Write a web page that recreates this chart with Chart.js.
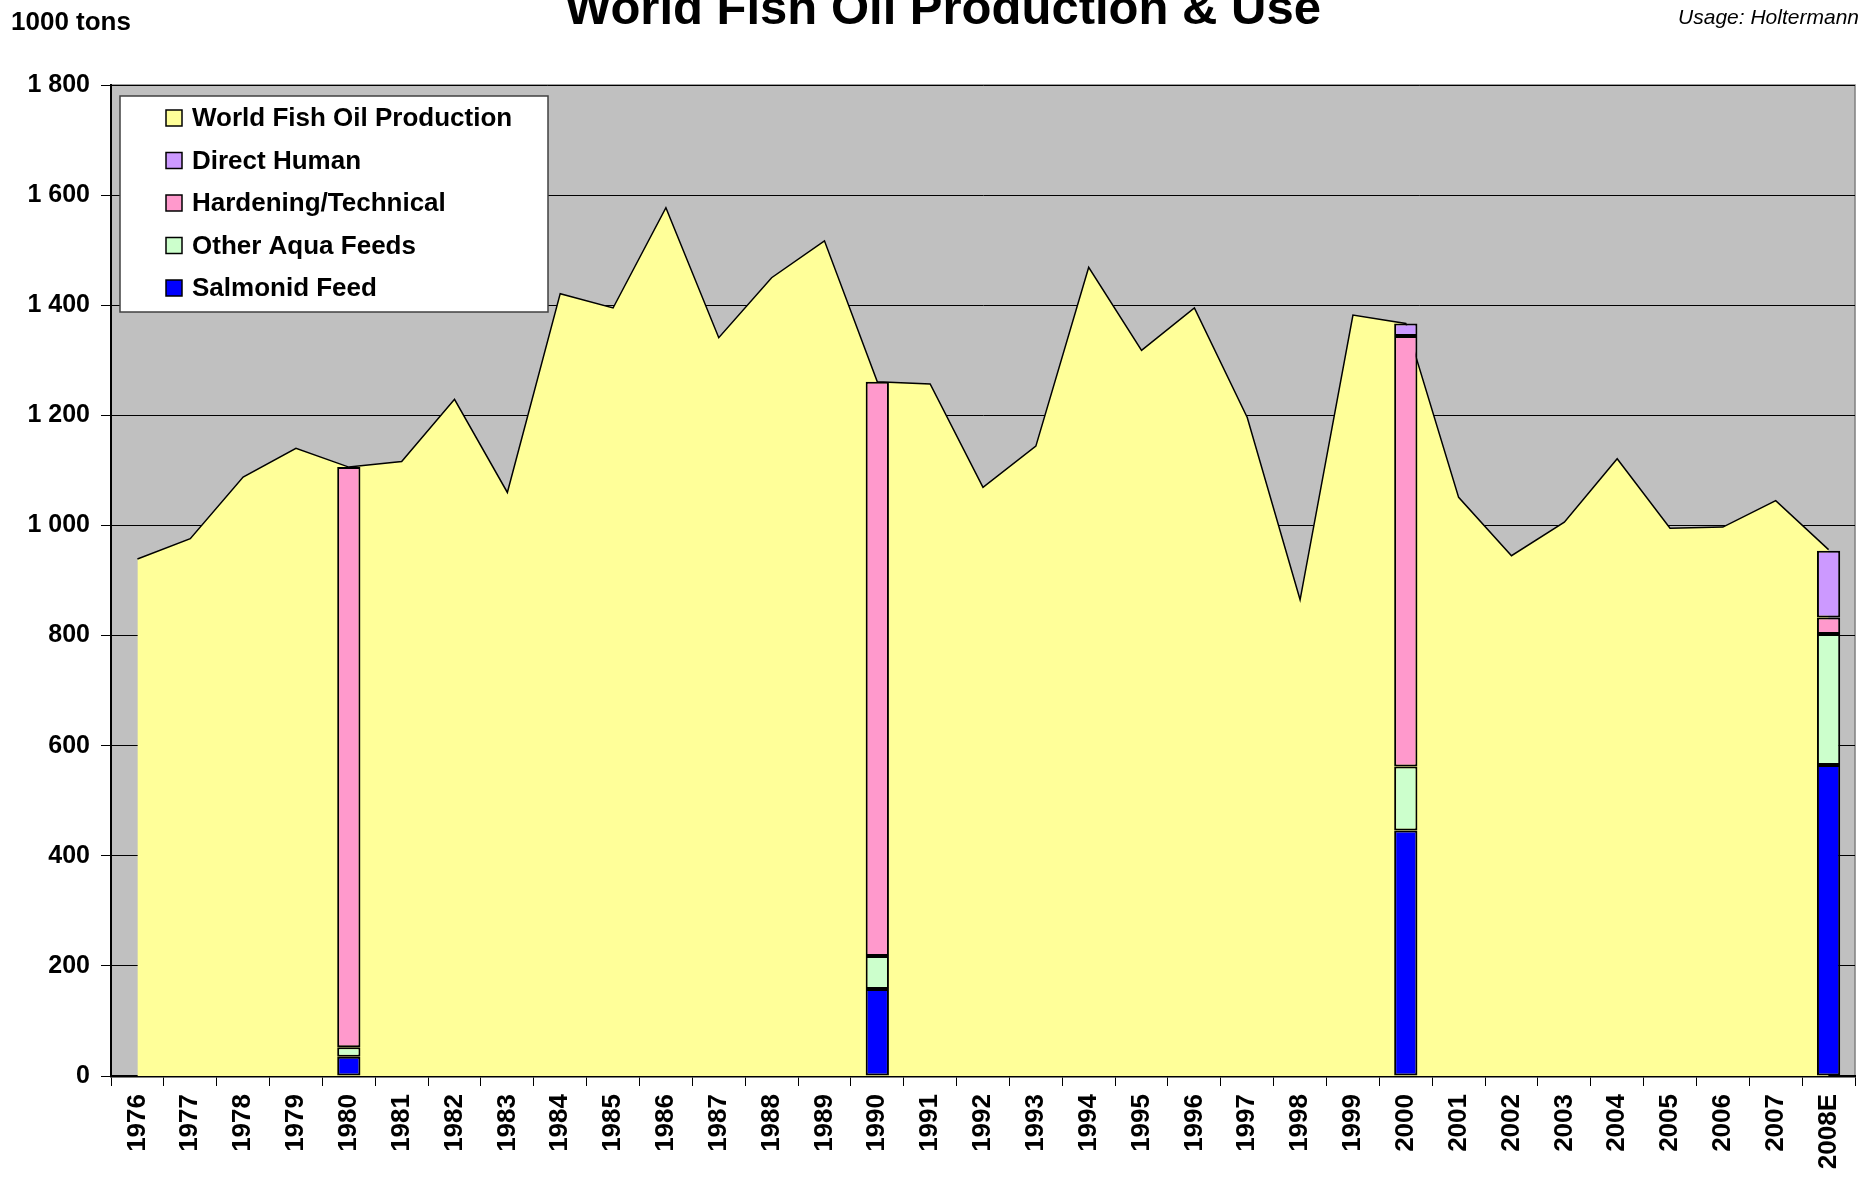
<!DOCTYPE html>
<html>
<head>
<meta charset="utf-8">
<script src="https://cdn.jsdelivr.net/npm/chart.js@4/dist/chart.umd.min.js"></script>
<style>
  body { margin: 0; background: #fff; }
  #wrap { width: 1868px; height: 1183px; }
</style>
</head>
<body>
<div id="wrap"><canvas id="chart" width="1868" height="1183"></canvas></div>
<script>
const years = ['1976', '1977', '1978', '1979', '1980', '1981', '1982', '1983', '1984', '1985',
  '1986', '1987', '1988', '1989', '1990', '1991', '1992', '1993', '1994', '1995', '1996',
  '1997', '1998', '1999', '2000', '2001', '2002', '2003', '2004', '2005', '2006', '2007', '2008E']

const production = [939, 976, 1088, 1140, 1106, 1116, 1229, 1060, 1421, 1395,
  1577, 1341, 1450, 1517, 1261, 1257, 1069, 1144, 1469, 1318, 1395,
  1196, 865, 1382, 1367, 1051, 945, 1006, 1121, 995, 997, 1045, 956]

// use split, only for 1980, 1990, 2000 and 2008E
const useYears = ['1980', '1990', '2000', '2008E']
const salmonid = [35, 158, 446, 565]
const otherAqua = [17, 60, 116, 238]
const hardening = [1054, 1043, 782, 30]
const directHuman = [null, null, 23, 121]

const yTicks = [0, 200, 400, 600, 800, 1000, 1200, 1400, 1600, 1800]

const FONT = '"Liberation Sans", Arial, sans-serif'

function spread(values) {
  return years.map(y => {
    const i = useYears.indexOf(y)
    return i < 0 ? null : values[i]
  })
}

function barSet(label, values, color) {
  return {
    type: 'bar',
    label: label,
    data: spread(values),
    backgroundColor: color,
    borderColor: '#000',
    borderWidth: 2,
    borderSkipped: false,
    stack: 'use',
    order: 0,
    barPercentage: 0.44,
    categoryPercentage: 1,
  }
}

const prodSet = {
  type: 'line',
  label: 'World Fish Oil Production',
  data: production,
  fill: 'origin',
  backgroundColor: '#FFFF99',
  borderColor: '#000',
  borderWidth: 1.5,
  pointRadius: 0,
  tension: 0,
  stack: 'prod',
  order: 1,
}

const salmonSet = barSet('Salmonid Feed', salmonid, '#0000FF')
const aquaSet = barSet('Other Aqua Feeds', otherAqua, '#CCFFCC')
const hardSet = barSet('Hardening/Technical', hardening, '#FF99CC')
const humanSet = barSet('Direct Human', directHuman, '#CC99FF')

const legendOrder = [prodSet, humanSet, hardSet, aquaSet, salmonSet]

const decor = {
  id: 'decor',
  beforeDraw(chart) {
    const { ctx, chartArea: a } = chart
    ctx.save()
    ctx.fillStyle = '#C0C0C0'
    ctx.fillRect(a.left, a.top, a.right - a.left, a.bottom - a.top)
    ctx.strokeStyle = '#808080'
    ctx.lineWidth = 1.5
    ctx.strokeRect(a.left, a.top, a.right - a.left, a.bottom - a.top)
    ctx.restore()
  },
  afterDraw(chart) {
    const ctx = chart.ctx
    ctx.save()
    ctx.fillStyle = '#000'
    ctx.textBaseline = 'alphabetic'

    ctx.font = 'bold 49px ' + FONT
    ctx.textAlign = 'center'
    ctx.fillText('World Fish Oil Production & Use', 943, 24)

    ctx.font = 'bold 26px ' + FONT
    ctx.textAlign = 'left'
    ctx.fillText('1000 tons', 11, 30)

    ctx.font = 'italic 21px ' + FONT
    ctx.textAlign = 'right'
    ctx.fillText('Usage: Holtermann', 1859, 24)

    // legend box
    ctx.fillStyle = '#fff'
    ctx.fillRect(120, 96, 428, 216)
    ctx.strokeStyle = '#404040'
    ctx.lineWidth = 1.5
    ctx.strokeRect(120, 96, 428, 216)
    ctx.font = 'bold 26px ' + FONT
    ctx.textAlign = 'left'
    ctx.textBaseline = 'middle'
    legendOrder.forEach((ds, i) => {
      const y = 118 + i * 42.5
      ctx.fillStyle = ds.backgroundColor
      ctx.fillRect(166, y - 8, 16, 16)
      ctx.strokeStyle = '#000'
      ctx.lineWidth = 1.5
      ctx.strokeRect(166, y - 8, 16, 16)
      ctx.fillStyle = '#000'
      ctx.fillText(ds.label, 192, y + 1)
    })
    ctx.restore()
  },
}

new Chart(document.getElementById('chart'), {
  data: {
    labels: years,
    datasets: [prodSet, salmonSet, aquaSet, hardSet, humanSet],
  },
  options: {
    responsive: false,
    animation: false,
    layout: { padding: { top: 85, right: 13, left: 0, bottom: 0 } },
    plugins: {
      legend: { display: false },
      tooltip: { enabled: false },
    },
    scales: {
      x: {
        stacked: true,
        offset: true,
        afterFit: s => { s.height = 107 },
        grid: {
          offset: true,
          drawOnChartArea: false,
          drawTicks: true,
          tickLength: 10,
          color: '#000',
        },
        border: { color: '#000', width: 2.5 },
        ticks: {
          color: '#000',
          font: { family: FONT, size: 26, weight: 'bold' },
          minRotation: 90,
          maxRotation: 90,
          autoSkip: false,
          padding: 8,
        },
      },
      y: {
        stacked: true,
        min: 0,
        max: 1800,
        afterFit: s => { s.width = 111 },
        afterBuildTicks: s => { s.ticks = yTicks.map(v => ({ value: v })) },
        grid: { color: '#000', lineWidth: 1, tickLength: 10 },
        border: { color: '#000', width: 2 },
        ticks: {
          color: '#000',
          font: { family: FONT, size: 25, weight: 'bold' },
          padding: 11,
          callback: v => String(v).replace(/\B(?=(\d{3})+(?!\d))/g, ' '),
        },
      },
    },
  },
  plugins: [decor],
})
</script>
</body>
</html>
